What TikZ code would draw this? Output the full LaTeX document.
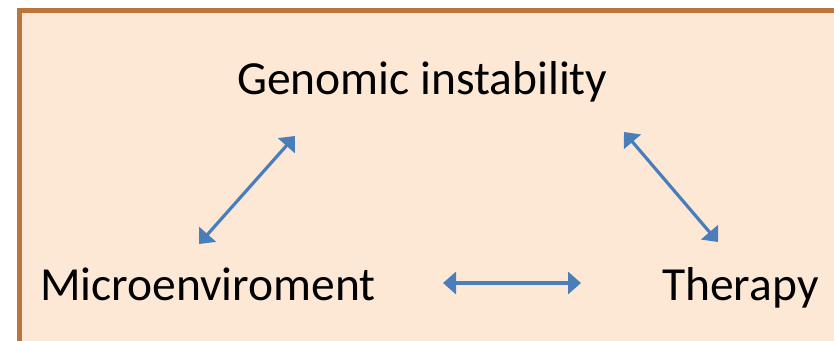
\documentclass[tikz,border=0pt]{standalone}
\usepackage{fontspec}
\setmainfont{Carlito}
\usetikzlibrary{positioning,arrows.meta}
\definecolor{FrameBrown}{RGB}{190,117,60}
\definecolor{PaperPeach}{RGB}{253,232,214}
\definecolor{ArrowBlue}{RGB}{74,126,187}

\begin{document}
\begin{tikzpicture}[
    x=1pt, y=-1pt,
    >={Triangle[length=13pt,width=22pt]},
    word/.style={inner sep=0pt, anchor=base west, font=\fontsize{47.5}{56}\selectfont},
    arrow/.style={<->, line width=3.2pt, draw=ArrowBlue}
]
\clip (0,0) rectangle (834,340);
\fill[white] (0,0) rectangle (834,340);
\draw[line width=5pt, draw=FrameBrown, fill=PaperPeach] (19,10) rectangle (850,360);

\node[word] (genome) at (237,94) {Genomic instability};
\node[word] (micro) at (40,300) {Microenviroment};
\node[word] (therapy) at (662,300) {Therapy};

% arrow ends
\coordinate (gl) at (295,136);
\coordinate (ml) at (199,244);
\coordinate (gr) at (624,132);
\coordinate (tr) at (718,242);
\coordinate (mh) at (443,283);
\coordinate (th) at (581,283);

\draw[arrow] (ml) -- (gl);
\draw[arrow] (gr) -- (tr);
\draw[arrow] (mh) -- (th);
\end{tikzpicture}
\end{document}
